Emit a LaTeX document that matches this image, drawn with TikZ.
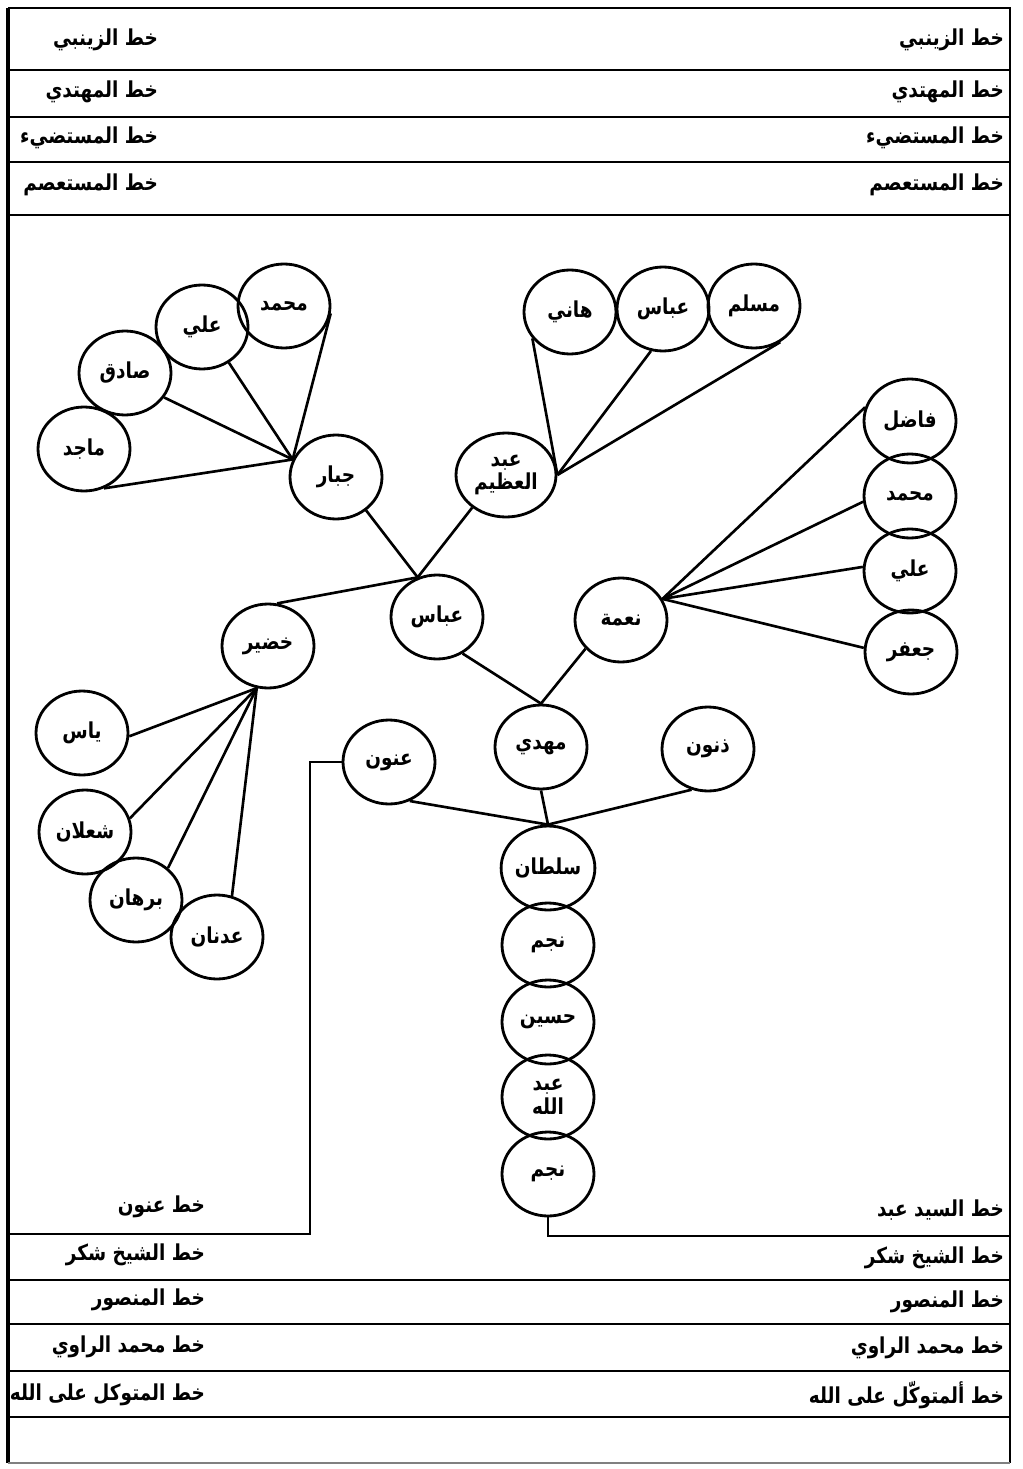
\documentclass[tikz,border=0pt]{standalone}
\usepackage{fontspec}
\newfontfamily\arabicfont[Script=Arabic, FakeStretch=0.84]{DejaVu Sans}
\TeXXeTstate=1
\usetikzlibrary{shapes.geometric}

\newcommand{\artxt}[1]{\beginR #1\endR}

\begin{document}
\begin{tikzpicture}[
  x=0.02cm, y=-0.02cm,
  every node/.style = {font=\arabicfont\bfseries\fontsize{12.5}{13.5}\selectfont},
  person/.style = {draw, ellipse, line width=1.6pt, inner sep=0pt,
                   minimum width=1.84cm, minimum height=1.68cm, align=center},
  lineage/.style = {anchor=east, inner sep=1pt},
  link/.style = {line width=1.5pt},
  rule/.style = {line width=1.2pt},
]
\useasboundingbox (0,0) rectangle (1023,1469);

%% ── Frame and lineage rows ───────────────────────────────────────────────────
\draw[line width=2.4pt] (8,8) -- (8,1463);
\draw[rule] (8,8) -- (1010,8) -- (1010,1463);
\draw[gray, line width=0.6pt] (8,1463) -- (1010,1463);
\draw[rule] (8,70) -- (1010,70);
\draw[rule] (8,117) -- (1010,117);
\draw[rule] (8,162) -- (1010,162);
\draw[rule] (8,215) -- (1010,215);
\draw[rule] (8,1280) -- (1010,1280);
\draw[rule] (8,1324) -- (1010,1324);
\draw[rule] (8,1371) -- (1010,1371);
\draw[rule] (8,1417) -- (1010,1417);

%% ── Top labels ───────────────────────────────────────────────────────────────
\node[lineage] (zaynabiL) at (160,40) {\artxt{خط الزينبي}};
\node[lineage] (muhtadiL) at (160,92) {\artxt{خط المهتدي}};
\node[lineage] (mustadiL) at (160,138) {\artxt{خط المستضيء}};
\node[lineage] (mustasimL) at (160,185) {\artxt{خط المستعصم}};
\node[lineage] (zaynabiR) at (1006,40) {\artxt{خط الزينبي}};
\node[lineage] (muhtadiR) at (1006,92) {\artxt{خط المهتدي}};
\node[lineage] (mustadiR) at (1006,138) {\artxt{خط المستضيء}};
\node[lineage] (mustasimR) at (1006,185) {\artxt{خط المستعصم}};

%% ── Bottom labels ────────────────────────────────────────────────────────────
\node[lineage] (anounL) at (207,1207) {\artxt{خط عنون}};
\node[lineage] (shukrL) at (207,1255) {\artxt{خط الشيخ شكر}};
\node[lineage] (mansurL) at (207,1300) {\artxt{خط المنصور}};
\node[lineage] (rawiL) at (207,1347) {\artxt{خط محمد الراوي}};
\node[lineage] (mutawakkilL) at (207,1395) {\artxt{خط المتوكل على الله}};
\node[lineage] (sayyidR) at (1006,1210) {\artxt{خط السيد عبد}};
\node[lineage] (shukrR) at (1006,1258) {\artxt{خط الشيخ شكر}};
\node[lineage] (mansurR) at (1006,1302) {\artxt{خط المنصور}};
\node[lineage] (rawiR) at (1006,1348) {\artxt{خط محمد الراوي}};
\node[lineage] (mutawakkilR) at (1006,1395) {\artxt{خط ألمتوكّل على الله}};

%% ── Jabbar branch ────────────────────────────────────────────────────────────
\node[person] (majid) at (84,449) {\artxt{ماجد}};
\node[person] (sadiq) at (125,373) {\artxt{صادق}};
\node[person] (aliL) at (202,327) {\artxt{علي}};
\node[person] (muhL) at (284,306) {\artxt{محمد}};
\node[person] (jabbar) at (336,477) {\artxt{جبار}};

%% ── Abd al-Azim branch ───────────────────────────────────────────────────────
\node[person, minimum width=2.0cm] (abdazim) at (506,475)
  {\artxt{عبد}\\\artxt{العظيم}};
\node[person] (hani) at (570,312) {\artxt{هاني}};
\node[person] (abbasT) at (663,309) {\artxt{عباس}};
\node[person] (muslim) at (754,306) {\artxt{مسلم}};

%% ── Nima branch ──────────────────────────────────────────────────────────────
\node[person] (fadil) at (910,421) {\artxt{فاضل}};
\node[person] (muhR) at (910,496) {\artxt{محمد}};
\node[person] (aliR) at (910,571) {\artxt{علي}};
\node[person] (jafar) at (911,652) {\artxt{جعفر}};
\node[person] (nima) at (621,620) {\artxt{نعمة}};
\node[person] (abbas) at (437,617) {\artxt{عباس}};

%% ── Khudair branch ───────────────────────────────────────────────────────────
\node[person] (khudair) at (268,646) {\artxt{خضير}};
\node[person] (yas) at (82,733) {\artxt{ياس}};
\node[person] (shaalan) at (85,832) {\artxt{شعلان}};
\node[person] (burhan) at (136,900) {\artxt{برهان}};
\node[person] (adnan) at (217,937) {\artxt{عدنان}};

%% ── Trunk ────────────────────────────────────────────────────────────────────
\node[person] (anoun) at (389,762) {\artxt{عنون}};
\node[person] (mahdi) at (541,747) {\artxt{مهدي}};
\node[person] (dhanun) at (708,749) {\artxt{ذنون}};
\node[person] (sultan) at (548,868) {\artxt{سلطان}};
\node[person] (najmA) at (548,945) {\artxt{نجم}};
\node[person] (husain) at (548,1022) {\artxt{حسين}};
\node[person] (abdallah) at (548,1097) {\artxt{عبد}\\\artxt{الله}};
\node[person] (najmB) at (548,1174) {\artxt{نجم}};

%% ── Links ────────────────────────────────────────────────────────────────────
\draw[link] (majid.-63) -- (jabbar.158);
\draw[link] (sadiq.-32) -- (jabbar.158);
\draw[link] (aliL.-53) -- (jabbar.158);
\draw[link] (muhL.-9) -- (jabbar.158);
\draw[link] (jabbar.-48) -- (abbas.116);
\draw[link] (abdazim.224) -- (abbas.116);
\draw[link] (khudair.78) -- (abbas.116);
\draw[link] (hani.215) -- (abdazim.east);
\draw[link] (abbasT.254) -- (abdazim.east);
\draw[link] (muslim.-54) -- (abdazim.east);
\draw[link] (fadil.163) -- (nima.27);
\draw[link] (muhR.187) -- (nima.27);
\draw[link] (aliR.175) -- (nima.27);
\draw[link] (jafar.175) -- (nima.27);
\draw[link] (abbas.-55) -- (mahdi.north);
\draw[link] (nima.219) -- (mahdi.north);
\draw[link] (yas.-4) -- (khudair.-105);
\draw[link] (shaalan.17) -- (khudair.-105);
\draw[link] (burhan.45) -- (khudair.-105);
\draw[link] (adnan.70) -- (khudair.-105);
\draw[link] (mahdi.south) -- (sultan.north);
\draw[link] (anoun.-62) -- (sultan.north);
\draw[link] (dhanun.-112) -- (sultan.north);

%% ── Lines out to the frame ───────────────────────────────────────────────────
\coordinate (anounkink) at (310,1234);
\coordinate (frameL) at (8,1234);
\coordinate (frameR) at (1010,1236);
\draw[link] (anoun.west) -| (anounkink) -- (frameL);
\draw[link] (najmB.south) |- (frameR);

\end{tikzpicture}
\end{document}
